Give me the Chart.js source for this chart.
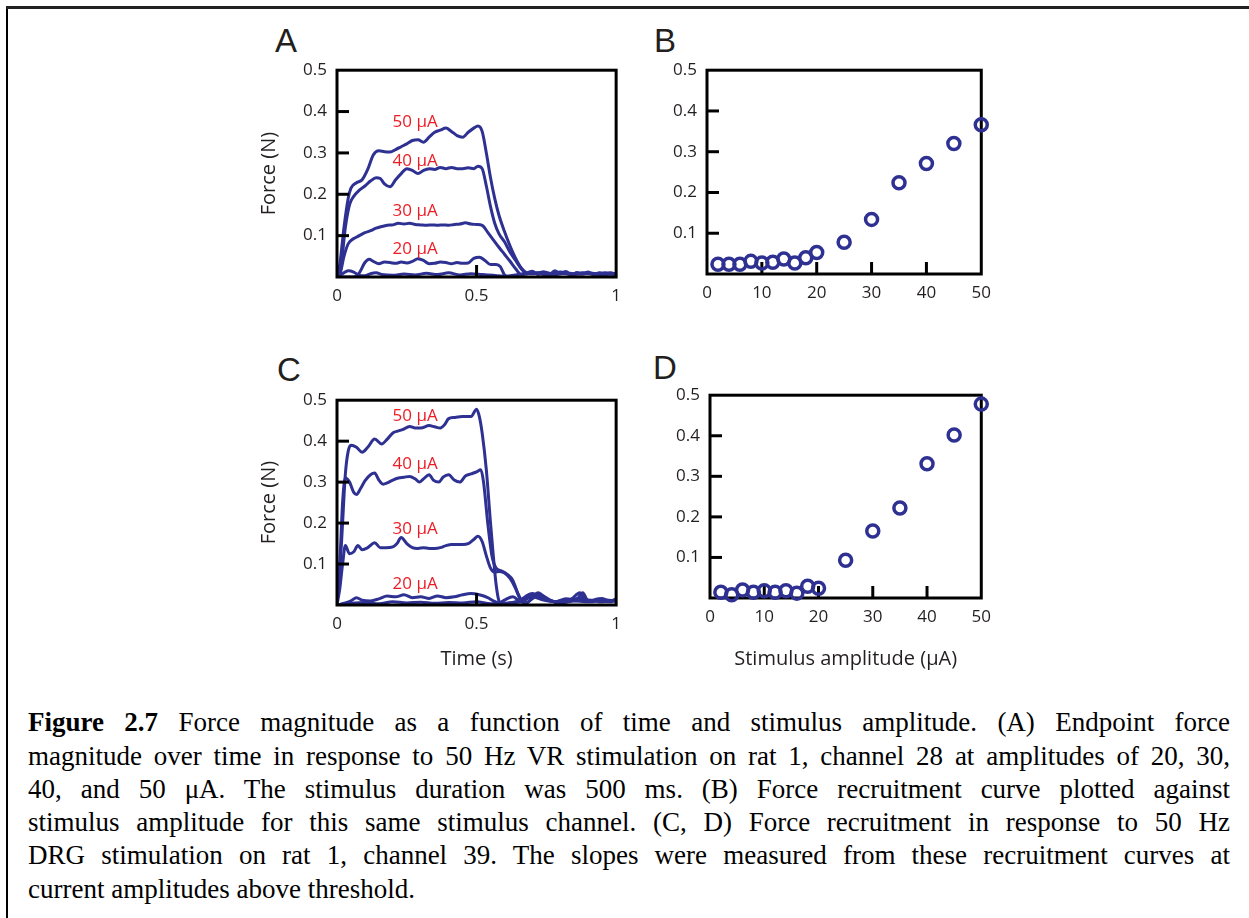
<!DOCTYPE html>
<html><head><meta charset="utf-8">
<script src="https://cdn.jsdelivr.net/npm/chart.js@4.4.1/dist/chart.umd.min.js"></script>
<style>
html,body{margin:0;padding:0;background:#fff;}
body{width:1249px;height:918px;position:relative;overflow:hidden;}
.frameL{position:absolute;left:6px;top:6px;width:2px;height:912px;background:#000;}
.frameT{position:absolute;left:6px;top:6px;width:1243px;height:3px;background:#222;}
canvas{position:absolute;}
.pl{position:absolute;font-family:'Liberation Sans',Arial,sans-serif;font-size:33px;line-height:33px;color:#231f20;}
#cap{position:absolute;left:28px;width:1202px;font-family:'Liberation Serif','Times New Roman',serif;color:#000;}
#cap div{text-align:justify;text-align-last:justify;}
#cap div.last{text-align-last:left;}
</style></head>
<body>
<div class="frameL"></div><div class="frameT"></div>
<div class="pl" style="left:275px;top:24px;">A</div>
<div class="pl" style="left:654px;top:24px;">B</div>
<div class="pl" style="left:277px;top:353px;">C</div>
<div class="pl" style="left:653px;top:351px;">D</div>
<canvas id="cA" width="380" height="260" style="left:250px;top:50px;"></canvas>
<canvas id="cB" width="380" height="260" style="left:620px;top:50px;"></canvas>
<canvas id="cC" width="380" height="300" style="left:250px;top:380px;"></canvas>
<canvas id="cD" width="380" height="305" style="left:620px;top:375px;"></canvas>
<div id="cap"></div>
<script>
// ---------- DATA ----------
// Panel A: force traces (time s, force N), VR stimulation
const traceA10 = [[0,0],[0.02,0.008],[0.04,0.015],[0.06,0.012],[0.08,0.004],[0.1,0.003],[0.12,0.008],[0.14,0.01],[0.16,0.006],[0.2,0.004],[0.24,0.007],[0.28,0.005],[0.32,0.009],[0.36,0.006],[0.4,0.01],[0.44,0.005],[0.48,0.008],[0.52,0.006],[0.56,0.004],[0.6,0.002],[0.64,0.005],[0.68,0.01],[0.7,0.014],[0.72,0.006],[0.74,0.012],[0.76,0.005],[0.78,0.015],[0.8,0.008],[0.82,0.013],[0.84,0.005],[0.86,0.011],[0.88,0.007],[0.9,0.012],[0.92,0.005],[0.94,0.01],[0.96,0.006],[0.98,0.01],[1.0,0.007]];
const traceA20 = [[0,0],[0.06,0.0],[0.08,0.01],[0.1,0.035],[0.115,0.043],[0.13,0.038],[0.15,0.032],[0.17,0.036],[0.19,0.035],[0.21,0.033],[0.23,0.036],[0.25,0.034],[0.27,0.038],[0.29,0.044],[0.31,0.04],[0.33,0.032],[0.35,0.033],[0.37,0.036],[0.39,0.035],[0.41,0.032],[0.43,0.035],[0.45,0.033],[0.47,0.034],[0.49,0.045],[0.51,0.048],[0.53,0.04],[0.55,0.03],[0.57,0.03],[0.585,0.025],[0.6,0.005],[0.61,0.0]];
const traceA30 = [[0,0],[0.01,0.005],[0.025,0.05],[0.04,0.08],[0.06,0.093],[0.08,0.1],[0.1,0.107],[0.12,0.112],[0.14,0.118],[0.16,0.122],[0.18,0.125],[0.2,0.126],[0.22,0.13],[0.24,0.128],[0.26,0.13],[0.28,0.127],[0.3,0.126],[0.32,0.125],[0.34,0.126],[0.36,0.125],[0.38,0.126],[0.4,0.125],[0.42,0.127],[0.44,0.128],[0.46,0.131],[0.48,0.128],[0.5,0.127],[0.52,0.125],[0.54,0.108],[0.56,0.09],[0.58,0.072],[0.6,0.055],[0.62,0.038],[0.64,0.02],[0.66,0.006],[0.7,0.01],[0.75,0.006],[0.8,0.009],[0.85,0.007],[0.9,0.01],[0.95,0.006],[1.0,0.008]];
const traceA40 = [[0,0],[0.015,0.03],[0.03,0.12],[0.045,0.175],[0.06,0.195],[0.08,0.21],[0.1,0.22],[0.12,0.232],[0.14,0.24],[0.155,0.238],[0.17,0.225],[0.19,0.218],[0.21,0.235],[0.23,0.25],[0.25,0.262],[0.27,0.258],[0.29,0.25],[0.31,0.258],[0.33,0.262],[0.35,0.26],[0.37,0.265],[0.39,0.262],[0.41,0.265],[0.43,0.262],[0.45,0.262],[0.47,0.264],[0.49,0.262],[0.505,0.268],[0.52,0.262],[0.535,0.22],[0.55,0.17],[0.565,0.13],[0.58,0.105],[0.6,0.085],[0.62,0.06],[0.64,0.04],[0.66,0.02],[0.68,0.008],[0.72,0.01],[0.76,0.006],[0.8,0.012],[0.84,0.006],[0.88,0.01],[0.92,0.007],[0.96,0.01],[1.0,0.006]];
const traceA50 = [[0,0],[0.01,0.03],[0.025,0.12],[0.04,0.19],[0.05,0.215],[0.07,0.228],[0.09,0.235],[0.11,0.26],[0.13,0.295],[0.15,0.305],[0.17,0.303],[0.19,0.302],[0.21,0.308],[0.23,0.315],[0.25,0.322],[0.27,0.33],[0.29,0.332],[0.31,0.326],[0.33,0.338],[0.35,0.35],[0.37,0.355],[0.39,0.36],[0.41,0.352],[0.43,0.342],[0.45,0.338],[0.47,0.35],[0.49,0.36],[0.505,0.365],[0.52,0.352],[0.535,0.3],[0.55,0.24],[0.565,0.19],[0.58,0.15],[0.6,0.11],[0.62,0.075],[0.64,0.045],[0.66,0.022],[0.68,0.01],[0.7,0.008],[0.74,0.012],[0.78,0.006],[0.82,0.01],[0.86,0.007],[0.9,0.009],[0.95,0.006],[1.0,0.008]];

// Panel C: force traces, DRG stimulation
const traceC10 = [[0,0],[0.05,0.004],[0.1,0.006],[0.15,0.003],[0.2,0.008],[0.25,0.005],[0.3,0.007],[0.35,0.004],[0.4,0.006],[0.45,0.005],[0.5,0.008],[0.55,0.003],[0.6,0.004],[0.65,0.01],[0.7,0.028],[0.73,0.02],[0.76,0.01],[0.8,0.008],[0.84,0.015],[0.87,0.03],[0.89,0.012],[0.92,0.01],[0.95,0.016],[0.98,0.008],[1.0,0.012]];
const traceC20 = [[0,0],[0.03,0.005],[0.05,0.01],[0.07,0.018],[0.09,0.012],[0.12,0.01],[0.15,0.015],[0.18,0.022],[0.21,0.02],[0.24,0.025],[0.27,0.018],[0.3,0.02],[0.33,0.016],[0.36,0.022],[0.39,0.018],[0.42,0.02],[0.45,0.025],[0.48,0.028],[0.51,0.025],[0.54,0.018],[0.56,0.01],[0.58,0.005],[0.6,0.012],[0.63,0.02],[0.66,0.008],[0.7,0.025],[0.73,0.02],[0.76,0.012],[0.8,0.005],[0.85,0.01],[0.9,0.012],[0.95,0.008],[1.0,0.012]];
const traceC30 = [[0,0],[0.01,0.04],[0.02,0.1],[0.03,0.145],[0.045,0.125],[0.06,0.13],[0.075,0.145],[0.09,0.135],[0.11,0.14],[0.135,0.152],[0.155,0.14],[0.175,0.14],[0.2,0.142],[0.215,0.15],[0.23,0.165],[0.25,0.15],[0.27,0.14],[0.29,0.138],[0.31,0.14],[0.33,0.138],[0.35,0.138],[0.37,0.14],[0.39,0.145],[0.41,0.148],[0.43,0.148],[0.45,0.148],[0.47,0.15],[0.49,0.16],[0.505,0.168],[0.52,0.155],[0.535,0.12],[0.55,0.09],[0.565,0.08],[0.58,0.082],[0.6,0.078],[0.62,0.065],[0.64,0.04],[0.66,0.01],[0.68,0.005],[0.7,0.018],[0.72,0.03],[0.74,0.022],[0.77,0.01],[0.8,0.004],[0.84,0.012],[0.88,0.018],[0.91,0.008],[0.95,0.012],[1.0,0.01]];
const traceC40 = [[0,0],[0.01,0.1],[0.02,0.25],[0.03,0.31],[0.045,0.3],[0.06,0.275],[0.07,0.27],[0.085,0.285],[0.1,0.303],[0.12,0.318],[0.135,0.322],[0.15,0.305],[0.165,0.295],[0.18,0.298],[0.2,0.305],[0.22,0.31],[0.24,0.312],[0.26,0.314],[0.28,0.308],[0.295,0.3],[0.31,0.308],[0.33,0.318],[0.345,0.305],[0.365,0.3],[0.38,0.312],[0.4,0.318],[0.42,0.305],[0.44,0.3],[0.46,0.315],[0.48,0.32],[0.5,0.325],[0.515,0.33],[0.525,0.3],[0.54,0.2],[0.555,0.12],[0.57,0.09],[0.59,0.083],[0.61,0.075],[0.63,0.06],[0.65,0.025],[0.67,0.004],[0.7,0.015],[0.72,0.025],[0.75,0.015],[0.78,0.008],[0.82,0.012],[0.86,0.015],[0.88,0.03],[0.9,0.01],[0.94,0.015],[0.97,0.008],[1.0,0.015]];
const traceC50 = [[0,0],[0.01,0.08],[0.02,0.2],[0.03,0.32],[0.04,0.375],[0.05,0.39],[0.07,0.385],[0.09,0.373],[0.11,0.385],[0.135,0.405],[0.16,0.393],[0.18,0.405],[0.2,0.42],[0.22,0.425],[0.235,0.428],[0.26,0.436],[0.28,0.432],[0.3,0.432],[0.33,0.438],[0.35,0.435],[0.37,0.432],[0.385,0.44],[0.4,0.455],[0.42,0.458],[0.45,0.46],[0.48,0.46],[0.5,0.478],[0.51,0.46],[0.52,0.42],[0.535,0.33],[0.55,0.2],[0.56,0.12],[0.57,0.05],[0.58,0.01],[0.59,0.0],[0.62,0.005],[0.66,0.008],[0.7,0.02],[0.74,0.012],[0.78,0.008],[0.82,0.015],[0.86,0.01],[0.9,0.008],[0.94,0.012],[1.0,0.01]];

// Panels B & D: recruitment curves
const amplitudes = [2,4,6,8,10,12,14,16,18,20,25,30,35,40,45,50];
const forceB = [0.024,0.024,0.024,0.031,0.027,0.029,0.037,0.027,0.04,0.053,0.078,0.134,0.224,0.271,0.32,0.366];
const forceD = [0.014,0.008,0.02,0.014,0.018,0.014,0.018,0.012,0.029,0.024,0.093,0.165,0.222,0.331,0.402,0.478];

// Trace labels
const labelTexts = ['50 μA','40 μA','30 μA','20 μA'];
const labelTime = [0.28,0.28,0.28,0.28];
const labelForceA = [0.374,0.28,0.159,0.068];
const labelForceC = [0.46,0.344,0.184,0.05];

// Axis ticks
const forceTicks = [0.1,0.2,0.3,0.4];
const timeInnerTicks = [0.5];
const ampInnerTicks = [10,20,30,40];

const captionLines = [
  '<b>Figure 2.7</b> Force magnitude as a function of time and stimulus amplitude. (A) Endpoint force',
  'magnitude over time in response to 50 Hz VR stimulation on rat 1, channel 28 at amplitudes of 20, 30,',
  '40, and 50 μA. The stimulus duration was 500 ms. (B) Force recruitment curve plotted against',
  'stimulus amplitude for this same stimulus channel. (C, D) Force recruitment in response to 50 Hz',
  'DRG stimulation on rat 1, channel 39. The slopes were measured from these recruitment curves at',
  'current amplitudes above threshold.'
];

// ---------- STYLE ----------
const BLUE = '#2e3192';
const RED = '#ed1c24';
const INK = '#231f20';
Chart.defaults.font.family = "'Open Sans', 'DejaVu Sans', sans-serif";
Chart.defaults.color = INK;

const framePlugin = {
  id: 'frame',
  beforeDatasetsDraw(chart, args, o) { if (!o.onTop) draw(chart, o); },
  afterDatasetsDraw(chart, args, o) {
    if (o.onTop) draw(chart, o);
    const {ctx, scales} = chart;
    ctx.save();
    ctx.fillStyle = RED;
    ctx.font = "17px 'Open Sans', sans-serif";
    ctx.textAlign = 'center';
    ctx.textBaseline = 'middle';
    (o.labels || []).forEach(l => {
      ctx.fillText(l.text, scales.x.getPixelForValue(l.x), scales.y.getPixelForValue(l.y));
    });
    ctx.restore();
  }
};
function draw(chart, o) {
  const {ctx, chartArea: a, scales} = chart;
  ctx.save();
  ctx.strokeStyle = '#000';
  ctx.lineWidth = 3;
  ctx.strokeRect(a.left, a.top, a.right - a.left, a.bottom - a.top);
  (o.yTicks || []).forEach(v => {
    const y = scales.y.getPixelForValue(v);
    ctx.beginPath(); ctx.moveTo(a.left, y); ctx.lineTo(a.left + 12, y); ctx.stroke();
  });
  (o.xTicks || []).forEach(v => {
    const x = scales.x.getPixelForValue(v);
    ctx.beginPath(); ctx.moveTo(x, a.bottom); ctx.lineTo(x, a.bottom - 12); ctx.stroke();
  });
  ctx.restore();
}

function yScale(width, title) {
  return {
    type: 'linear', min: 0, max: 0.5,
    ticks: { stepSize: 0.1, padding: 10, font: { size: 17 }, color: INK,
      callback: v => Math.abs(v) < 1e-9 ? '' : Number(v).toFixed(1) },
    grid: { display: false, drawTicks: false }, border: { display: false },
    title: title ? { display: true, text: title, font: { size: 20 }, color: INK, padding: { top: 7, bottom: 0 } } : { display: false },
    afterFit: s => { s.width = width; }
  };
}
function xScale(min, max, step, height, title) {
  return {
    type: 'linear', min, max,
    ticks: { stepSize: step, padding: 9, font: { size: 17 }, color: INK, maxRotation: 0, callback: v => String(+Number(v).toFixed(2)) },
    grid: { display: false, drawTicks: false }, border: { display: false },
    title: title ? { display: true, text: title, font: { size: 20 }, color: INK, padding: { top: 0, bottom: 9 } } : { display: false },
    afterFit: s => { s.height = height; }
  };
}
function traceDs(pts) {
  return { data: pts.map(([x, y]) => ({ x, y })), borderColor: BLUE, borderWidth: 3,
    pointRadius: 0, fill: false, cubicInterpolationMode: 'monotone' };
}
function lineChart(id, traces, pad, yW, xH, xTitle, labelsY) {
  return new Chart(document.getElementById(id), {
    type: 'line',
    data: { datasets: traces.map(traceDs) },
    options: {
      responsive: false, animation: false, events: [],
      layout: { padding: pad },
      scales: { x: xScale(0, 1, 0.5, xH, xTitle), y: yScale(yW, 'Force (N)') },
      plugins: { legend: { display: false }, tooltip: { enabled: false },
        frame: { onTop: true, yTicks: forceTicks, xTicks: timeInnerTicks,
          labels: labelTexts.map((t, i) => ({ text: t, x: labelTime[i], y: labelsY[i] })) } }
    },
    plugins: [framePlugin]
  });
}
function scatterChart(id, ys, pad, yW, xH, xTitle) {
  return new Chart(document.getElementById(id), {
    type: 'scatter',
    data: { datasets: [{ data: amplitudes.map((a, i) => ({ x: a, y: ys[i] })),
      borderColor: BLUE, backgroundColor: 'rgba(0,0,0,0)', borderWidth: 3.5, pointRadius: 6, clip: false }] },
    options: {
      responsive: false, animation: false, events: [],
      layout: { padding: pad },
      scales: { x: xScale(0, 50, 10, xH, xTitle), y: yScale(yW, null) },
      plugins: { legend: { display: false }, tooltip: { enabled: false },
        frame: { onTop: false, yTicks: forceTicks, xTicks: ampInnerTicks } }
    },
    plugins: [framePlugin]
  });
}

lineChart('cA', [traceA10, traceA20, traceA30, traceA40, traceA50], { top: 13, right: 11, left: 0, bottom: 0 }, 87, 33, null, labelForceA);
scatterChart('cB', forceB, { top: 12, right: 9, left: 0, bottom: 0 }, 87, 36, null);
lineChart('cC', [traceC10, traceC20, traceC30, traceC40, traceC50], { top: 13, right: 11, left: 0, bottom: 0 }, 87, 75, 'Time (s)', labelForceC);
scatterChart('cD', forceD, { top: 13, right: 7, left: 0, bottom: 0 }, 90, 82, 'Stimulus amplitude (μA)');

// ---------- CAPTION ----------
const cap = document.getElementById('cap');
const mc = document.createElement('canvas').getContext('2d');
mc.font = "100px 'Liberation Serif'";
const w2 = mc.measureText(captionLines[1]).width;
const fs = Math.min(27, 1196 / w2 * 100);
const lh = 33.3;
cap.style.fontSize = fs + 'px';
cap.style.lineHeight = lh + 'px';
cap.style.top = (732 - ((lh - 1.107 * fs) / 2 + 0.891 * fs)) + 'px';
captionLines.forEach((t, i) => {
  const d = document.createElement('div');
  d.innerHTML = t;
  if (i === captionLines.length - 1) d.className = 'last';
  cap.appendChild(d);
});
</script>
</body></html>
